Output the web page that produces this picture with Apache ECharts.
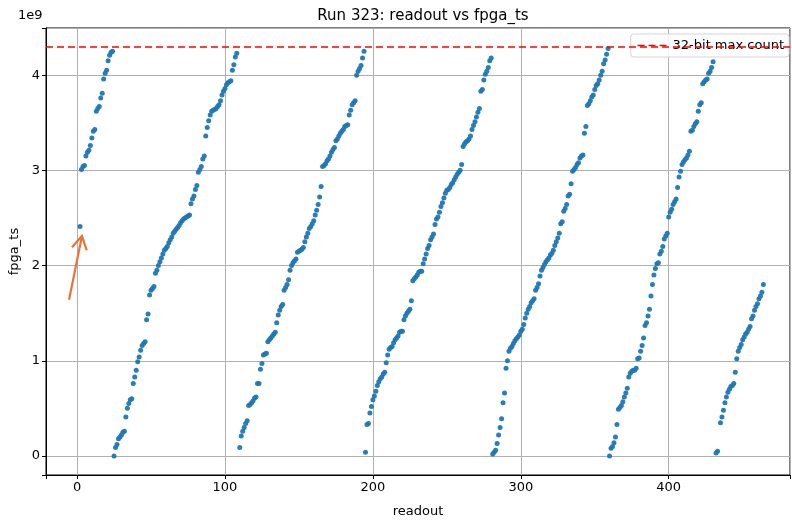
<!DOCTYPE html>
<html>
<head>
<meta charset="utf-8">
<script src="https://cdn.jsdelivr.net/npm/echarts@6/dist/echarts.min.js"></script>
<style>html,body{margin:0;padding:0;background:#fff}#c{width:792px;height:520px}</style>
</head>
<body>
<div id="c"></div>
<script>
// fpga_ts values in units of 1e9, grouped by consecutive readout runs
const readoutStarts = [2, 3, 25, 110, 195, 281, 360, 432, 435];
const fpgaSeg0 = [2.41];
const fpgaSeg1 = [3.01,3.04,3.05,3.15,3.19,3.21,3.26,3.34,3.41,3.43,3.62,3.65,3.67,3.76,3.81,3.96,4.02,4.05,4.15,4.21,4.24,4.25];
const fpgaSeg2 = [0.00,0.09,0.12,0.18,0.20,0.22,0.25,0.26,0.41,0.50,
  0.55,0.59,0.60,0.76,0.83,0.90,0.99,1.04,1.11,1.16,
  1.18,1.20,1.43,1.49,1.69,1.74,1.76,1.78,1.92,1.95,
  2.00,2.04,2.08,2.12,2.16,2.18,2.20,2.24,2.27,2.30,
  2.34,2.36,2.38,2.40,2.42,2.45,2.47,2.49,2.50,2.51,
  2.52,2.53,2.65,2.70,2.73,2.80,2.84,2.98,3.01,3.04,
  3.12,3.15,3.36,3.45,3.52,3.58,3.62,3.63,3.64,3.65,
  3.67,3.69,3.73,3.79,3.83,3.86,3.90,3.92,3.93,3.94,
  4.05,4.11,4.19,4.23];
const fpgaSeg3 = [0.09,0.21,0.26,0.30,0.34,0.37,0.53,0.54,0.56,0.58,
  0.61,0.62,0.76,0.76,0.91,0.97,1.06,1.07,1.08,1.20,
  1.22,1.24,1.26,1.28,1.30,1.40,1.48,1.53,1.57,1.59,
  1.74,1.77,1.80,1.85,1.95,2.00,2.03,2.05,2.07,2.14,
  2.15,2.16,2.17,2.19,2.25,2.30,2.34,2.39,2.41,2.44,
  2.47,2.53,2.58,2.64,2.72,2.83,3.04,3.05,3.07,3.10,
  3.12,3.15,3.19,3.22,3.24,3.31,3.33,3.36,3.39,3.41,
  3.43,3.46,3.47,3.48,3.58,3.63,3.69,3.71,3.73,4.00,
  4.04,4.07,4.10,4.18,4.25];
const fpgaSeg4 = [0.04,0.33,0.34,0.45,0.52,0.59,0.63,0.68,0.74,0.78,
  0.81,0.83,0.86,0.88,0.98,1.06,1.12,1.14,1.15,1.19,
  1.22,1.24,1.26,1.30,1.31,1.31,1.43,1.47,1.50,1.52,
  1.54,1.63,1.84,1.86,1.88,1.90,1.93,1.94,1.94,2.02,
  2.07,2.12,2.18,2.21,2.27,2.30,2.33,2.43,2.49,2.51,
  2.56,2.62,2.66,2.71,2.76,2.79,2.80,2.82,2.85,2.87,
  2.90,2.93,2.96,2.98,3.00,3.06,3.25,3.28,3.30,3.31,
  3.33,3.36,3.43,3.47,3.51,3.56,3.61,3.65,3.83,3.85,
  3.95,4.01,4.04,4.08,4.15,4.18];
const fpgaSeg5 = [0.02,0.04,0.06,0.13,0.22,0.30,0.39,0.56,0.66,0.92,
  1.00,1.10,1.13,1.15,1.18,1.21,1.23,1.25,1.27,1.31,
  1.33,1.38,1.45,1.50,1.54,1.57,1.61,1.63,1.65,1.74,
  1.77,1.81,1.89,1.95,1.98,2.01,2.04,2.06,2.08,2.11,
  2.13,2.16,2.21,2.25,2.29,2.34,2.44,2.46,2.57,2.60,
  2.64,2.73,2.75,2.86,2.99,3.01,3.03,3.06,3.08,3.13,
  3.15,3.16,3.39,3.46,3.68,3.70,3.73,3.77,3.79,3.85,
  3.89,3.91,3.95,4.00,4.04,4.12,4.16,4.22,4.28];
const fpgaSeg6 = [0.00,0.08,0.10,0.14,0.20,0.33,0.49,0.51,0.53,0.57,
  0.62,0.66,0.71,0.83,0.87,0.89,0.90,0.90,0.92,1.02,
  1.03,1.10,1.16,1.24,1.37,1.40,1.47,1.54,1.68,1.80,
  1.90,1.97,2.02,2.03,2.12,2.15,2.20,2.28,2.31,2.34,
  2.51,2.56,2.59,2.64,2.67,2.70,2.82,2.93,2.99,3.06,
  3.09,3.11,3.13,3.16,3.20,3.41,3.42,3.46,3.49,3.51,
  3.62,3.69,3.71,3.91,3.93,3.95,3.96,4.02,4.04,4.08,
  4.14];
const fpgaSeg7 = [0.03,0.05];
const fpgaSeg8 = [0.35,0.41,0.48,0.56,0.62,0.67,0.70,0.73,0.74,0.76,
  0.88,1.02,1.10,1.14,1.17,1.22,1.25,1.28,1.30,1.33,
  1.36,1.44,1.47,1.53,1.57,1.60,1.65,1.68,1.72,1.80];
const maxCount32 = 4.294967295; // 2^32-1 in units of 1e9
const xTicks = [0, 100, 200, 300, 400];
const yTicks = [0, 1, 2, 3, 4];
const arrowTail = [-5.4, 1.64];
const arrowTip = [3.3, 2.31];

const segs = [fpgaSeg0, fpgaSeg1, fpgaSeg2, fpgaSeg3, fpgaSeg4, fpgaSeg5, fpgaSeg6, fpgaSeg7, fpgaSeg8];
const points = [];
segs.forEach((vals, s) => vals.forEach((v, i) => points.push([readoutStarts[s] + i, v])));

const FONT = 'DejaVu Sans';
const xMin = -21, xMax = 482, yMin = -0.2, yMax = 4.495;

const chart = echarts.init(document.getElementById('c'), null, {renderer: 'canvas'});
chart.setOption({
  animation: false,
  backgroundColor: '#fff',
  textStyle: {fontFamily: FONT},
  title: {
    text: 'Run 323: readout vs fpga_ts',
    left: 418, top: 4, textAlign: 'center',
    textStyle: {fontFamily: FONT, fontSize: 15, fontWeight: 'normal', color: '#000'}
  },
  legend: {
    data: ['32-bit max count'],
    right: 3, top: 34,
    orient: 'vertical',
    itemWidth: 30, itemHeight: 10, itemGap: 4,
    padding: [5, 5, 5, 6],
    borderColor: '#d5d5d5', borderWidth: 1, borderRadius: 3,
    backgroundColor: 'rgba(255,255,255,0.85)',
    itemStyle: {opacity: 0},
    lineStyle: {color: '#ff0000', width: 1.6, type: [7, 4]},
    textStyle: {fontFamily: FONT, fontSize: 13, color: '#000'}
  },
  grid: {
    left: 46, right: 2, top: 28, bottom: 45,
    outerBoundsMode: 'none', containLabel: false,
    show: true, borderColor: '#000', borderWidth: 1, backgroundColor: 'transparent'
  },
  xAxis: {
    type: 'value', min: xMin, max: xMax,
    name: 'readout', nameLocation: 'middle', nameGap: 30,
    nameTextStyle: {fontFamily: FONT, fontSize: 13, color: '#000'},
    axisLine: {show: true, onZero: false, lineStyle: {color: '#000', width: 1}},
    axisTick: {show: true, length: 4, lineStyle: {color: '#000'}},
    axisLabel: {fontFamily: FONT, fontSize: 13, color: '#000', margin: 6,
      formatter: v => xTicks.includes(Math.round(v)) && Math.abs(v - Math.round(v)) < 1e-6 ? String(Math.round(v)) : ''},
    splitLine: {show: true, lineStyle: {color: '#b0b0b0', width: 1}}
  },
  yAxis: {
    type: 'value', min: yMin, max: yMax,
    name: 'fpga_ts', nameLocation: 'middle', nameGap: 25,
    nameTextStyle: {fontFamily: FONT, fontSize: 13, color: '#000'},
    axisLine: {show: true, onZero: false, lineStyle: {color: '#000', width: 1}},
    axisTick: {show: true, length: 4, lineStyle: {color: '#000'}},
    axisLabel: {fontFamily: FONT, fontSize: 13, color: '#000', margin: 6,
      formatter: v => yTicks.includes(Math.round(v)) && Math.abs(v - Math.round(v)) < 1e-6 ? String(Math.round(v)) : ''},
    splitLine: {show: true, lineStyle: {color: '#b0b0b0', width: 1}}
  },
  graphic: [{
    type: 'text', left: 18, top: 9,
    style: {text: '1e9', fontFamily: FONT, fontSize: 13, fill: '#000'}
  }],
  series: [
    {
      name: 'fpga_ts', type: 'scatter', data: points,
      symbol: 'circle', symbolSize: 5,
      itemStyle: {color: '#1f77b4', opacity: 0.95},
      z: 3
    },
    {
      name: '32-bit max count', type: 'line',
      data: [[xMin, maxCount32], [xMax, maxCount32]],
      symbol: 'none', showSymbol: false,
      lineStyle: {color: '#ff0000', width: 1.6, type: [7, 4]},
      itemStyle: {color: '#ff0000'},
      z: 4
    },
    {
      name: 'arrow', type: 'custom',
      data: [[arrowTail[0], arrowTail[1], arrowTip[0], arrowTip[1]]],
      encode: {x: [0, 2], y: [1, 3]},
      clip: false, z: 5, silent: true,
      renderItem: (params, api) => {
        const t = api.coord([api.value(0), api.value(1)]);
        const h = api.coord([api.value(2), api.value(3)]);
        const dx = t[0] - h[0], dy = t[1] - h[1];
        const L = Math.hypot(dx, dy), ux = dx / L, uy = dy / L;
        const a = 30 * Math.PI / 180, bl = 15;
        const r = (ang) => [h[0] + bl * (ux * Math.cos(ang) - uy * Math.sin(ang)),
                            h[1] + bl * (ux * Math.sin(ang) + uy * Math.cos(ang))];
        const stroke = '#e8743b';
        return {type: 'group', children: [
          {type: 'line', shape: {x1: t[0], y1: t[1], x2: h[0], y2: h[1]}, style: {stroke, lineWidth: 2.2}},
          {type: 'polyline', shape: {points: [r(a), h, r(-a)]}, style: {stroke, lineWidth: 2.2, fill: null}}
        ]};
      }
    }
  ]
});
</script>
</body>
</html>
